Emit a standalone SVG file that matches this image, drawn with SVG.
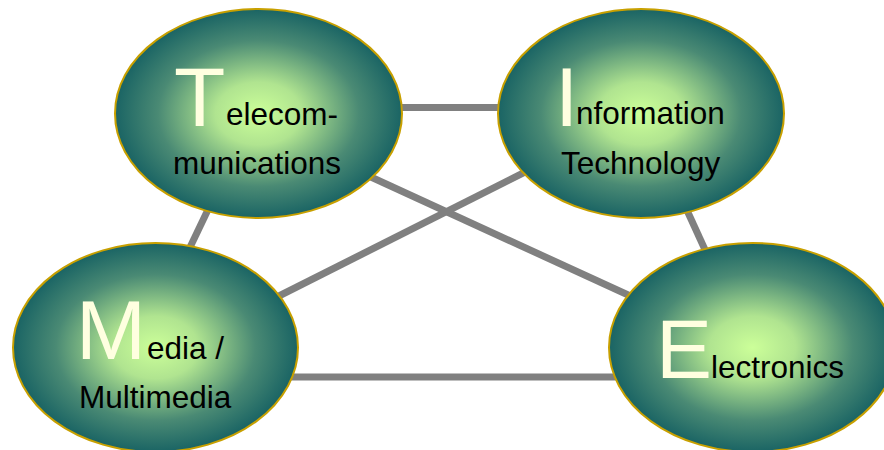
<svg xmlns="http://www.w3.org/2000/svg" width="884" height="450" viewBox="0 0 884 450">
<defs>
<radialGradient id="g" cx="0.5" cy="0.5" r="0.5">
<stop offset="0" stop-color="#CCFF99"/>
<stop offset="0.3" stop-color="#B0E490"/>
<stop offset="0.7" stop-color="#4A8A74"/>
<stop offset="1" stop-color="#1A6464"/>
</radialGradient>
</defs>
<style>
.n{fill:url(#g);stroke:#C8A000;stroke-width:2}
.c{stroke:#808080;stroke-width:7;fill:none}
.big{font-family:"Liberation Sans",Arial,sans-serif;fill:#FFFFE0;font-size:84px}
.t{font-family:"Liberation Sans",Arial,sans-serif;fill:#000;font-size:31.5px}
</style>
<rect width="884" height="450" fill="#fff"/>
<g id="connectors">
<line class="c" x1="380" y1="107.5" x2="520" y2="107.5"/>
<line class="c" x1="215" y1="195" x2="183" y2="262"/>
<line class="c" x1="360" y1="172" x2="650" y2="305"/>
<line class="c" x1="545" y1="162" x2="265" y2="303"/>
<line class="c" x1="680" y1="195" x2="712" y2="265"/>
<line class="c" x1="280" y1="377" x2="630" y2="377"/>
</g>
<g id="telecom">
<ellipse class="n" cx="258.5" cy="113.5" rx="143.5" ry="104.5"/>
<text class="big" x="174" y="126">T</text>
<text class="t" x="226" y="125">elecom-</text>
<text class="t" x="173" y="174">munications</text>
</g>
<g id="it">
<ellipse class="n" cx="641" cy="113.5" rx="143" ry="104.5"/>
<text class="big" x="555" y="126">I</text>
<text class="t" x="576" y="124">nformation</text>
<text class="t" x="561" y="174">Technology</text>
</g>
<g id="media">
<ellipse class="n" cx="155.5" cy="347.5" rx="142.5" ry="104.5"/>
<text class="big" x="76" y="359">M</text>
<text class="t" x="147" y="359">edia /</text>
<text class="t" x="79" y="408">Multimedia</text>
</g>
<g id="electronics">
<ellipse class="n" cx="752.5" cy="347.5" rx="143.5" ry="104.5"/>
<text class="big" x="656" y="378">E</text>
<text class="t" x="711" y="378">lectronics</text>
</g>
</svg>
